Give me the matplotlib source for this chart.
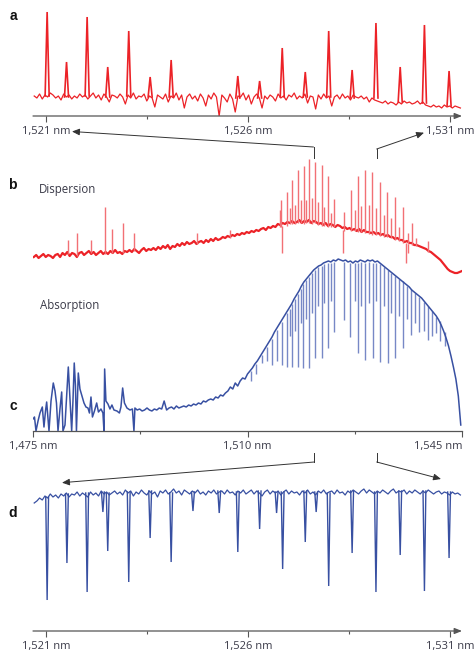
import numpy as np
import matplotlib
matplotlib.use("Agg")
import matplotlib.pyplot as plt
from matplotlib.lines import Line2D
from matplotlib.patches import FancyArrowPatch

# ---------------- DATA (heights in arbitrary units above each axis) ----------------
# Panel a: dispersion detail, 1521-1531 nm
a_noise = [20, 18, 22, 17, 21, 19, 23, 21, 18, 20,
           16, 22, 19, 21, 17, 20, 18, 22, 19, 21,
           17, 20, 23, 18, 21, 16, 22, 19, 14, 21,
           20, 18, 22, 19, 12, 21, 18, 23, 17, 20,
           19, 22, 15, 20, 18, 9, 21, 19, 17, 22,
           14, 20, 18, 23, 16, 21, 8, 19, 22, 17,
           20, 15, 22, 18, 10, 21, 17, 23, 19, 0,
           21, 18, 14, 22, 17, 4, 20, 19, 23, 16,
           21, 12, 19, 22, 18, 8, 20, 17, 21, 19,
           15, 22, 18, 20, 16, 21, 19, 23, 17, 20,
           18, 22, 13, 20, 19, 7, 21, 17, 22, 18,
           20, 10, 19, 21, 17, 22, 18, 20, 16, 21,
           19, 18, 20, 17, 19, 14, 18, 16, 15, 14,
           13, 15, 12, 14, 13, 11, 14, 12, 15, 13,
           14, 12, 13, 15, 12, 14, 11, 10, 9, 11,
           9, 10, 8, 11, 9, 10, 8, 10, 9, 8]
a_pk_nm = [1521.02, 1521.50, 1522.01, 1522.52, 1523.04, 1523.57, 1524.09, 1525.74, 1526.28,
           1526.84, 1527.41, 1527.99, 1528.57, 1529.16, 1529.76, 1530.36, 1530.97]
a_pk_top = [104, 54, 99, 49, 85, 39, 56, 40, 35, 68, 44, 85, 46, 93, 49, 91, 45]
a_pk_base = [20, 19, 20, 19, 20, 19, 19, 18, 18, 19, 19, 19, 18, 18, 14, 13, 10]

# Panel b: dispersion, 1475-1545 nm
b_noise = [33, 35, 32, 34, 36, 33, 35, 34, 32, 35,
           36, 33, 37, 35, 38, 34, 37, 36, 33, 37,
           38, 35, 37, 39, 36, 38, 35, 37, 39, 36,
           38, 36, 39, 37, 40, 37, 38, 36, 39, 38,
           40, 38, 41, 39, 37, 40, 42, 39, 41, 40,
           42, 40, 43, 41, 44, 42, 45, 41, 44, 43,
           46, 44, 47, 45, 48, 46, 47, 49, 46, 48,
           49, 47, 50, 48, 51, 49, 52, 50, 51, 53,
           52, 54, 53, 55, 54, 56, 55, 57, 56, 58,
           57, 59, 58, 60, 59, 61, 62, 60, 63, 62,
           64, 63, 66, 65, 67, 66, 68, 67, 69, 67,
           68, 70, 67, 69, 68, 70, 67, 69, 68, 66,
           67, 65, 67, 64, 66, 65, 63, 65, 64, 62,
           63, 61, 62, 60, 61, 59, 61, 58, 60, 58,
           58, 57, 58, 56, 57, 55, 56, 54, 55, 53,
           53, 51, 52, 50, 50, 48, 49, 47, 47, 45,
           45, 44, 43, 42, 41, 39, 38, 36, 34, 32,
           30, 27, 24, 21, 19, 18, 17, 17, 18, 19]
b_sp_nm = [1480.76, 1482.22, 1484.46, 1486.69, 1487.93, 1489.63, 1491.52, 1501.69, 1507.12,
           1515.23, 1515.44, 1516.37, 1516.86, 1517.28, 1517.72, 1518.16, 1518.65, 1519.14,
           1519.56, 1520.05, 1520.54, 1521.03, 1521.52, 1522.08, 1522.50, 1523.10, 1523.59,
           1524.08, 1525.76, 1526.85, 1527.46, 1527.99, 1528.60, 1529.18, 1529.79, 1530.39,
           1530.98, 1531.58, 1532.23, 1532.84, 1533.49, 1534.08, 1534.73, 1535.45, 1536.15,
           1536.80, 1537.45, 1539.41]
b_sp_top = [50, 57, 50, 83, 61, 67, 57, 57, 60, 80, 90, 98, 82, 110, 85, 120, 90, 124, 90, 131,
            92, 128, 88, 125, 83, 114, 77, 91, 78, 100, 80, 114, 84, 120, 85, 118, 82, 108, 75, 98,
            72, 93, 63, 83, 57, 67, 52, 49]
b_sp_base = [36, 34, 37, 36, 37, 37, 39, 46, 52, 63, 63, 64, 66, 66, 66, 67, 67, 66, 67, 67,
             66, 67, 65, 64, 64, 63, 63, 63, 59, 59, 59, 58, 58, 57, 56, 55, 55, 54, 53, 53,
             52, 50, 49, 47, 46, 45, 44, 38]
b_dn_nm = [1515.60, 1525.60, 1535.94, 1536.15]
b_dn_bot = [37, 37, 27, 37]
b_dn_base = [64, 60, 47, 46]

# Panel c: absorption, 1475-1545 nm
c_left_nm = [1475.00, 1475.24, 1475.49, 1475.82, 1476.14, 1476.52, 1476.79, 1477.04, 1477.23, 1477.61,
             1477.94, 1478.31, 1478.59, 1478.83, 1479.08, 1479.40, 1479.68, 1479.89, 1480.22, 1480.54,
             1480.76, 1481.03, 1481.31, 1481.52, 1481.73, 1481.93, 1482.09, 1482.39, 1482.66, 1482.99,
             1483.32, 1483.64, 1483.97, 1484.21, 1484.46, 1484.70, 1485.03, 1485.39, 1485.68, 1486.09,
             1486.41, 1486.58, 1486.69, 1486.90, 1487.23, 1487.56, 1487.88, 1488.21, 1488.70, 1489.10,
             1489.35, 1489.63, 1489.92, 1490.33, 1490.82, 1491.22, 1491.47, 1491.63]
c_left_h = [12, 14, 0, 10, 18, 24, 4, 20, 29, 0,
            30, 48, 40, 28, 0, 22, 39, 0, 6, 40,
            64, 32, 0, 30, 68, 45, 0, 58, 42, 35,
            28, 24, 23, 18, 34, 14, 20, 28, 19, 22,
            18, 0, 62, 30, 27, 22, 26, 21, 20, 18,
            24, 43, 28, 23, 21, 22, 0, 23]
c_main = [21, 22, 20, 21, 23, 21, 20, 22, 21, 23,
          22, 30, 21, 23, 24, 22, 25, 23, 24, 25,
          24, 26, 25, 27, 26, 28, 27, 30, 29, 31,
          32, 31, 34, 33, 36, 35, 38, 40, 44, 42,
          48, 45, 50, 53, 52, 57, 60, 63, 67, 70,
          74, 78, 82, 86, 90, 94, 99, 103, 107, 111,
          115, 119, 123, 127, 132, 136, 140, 145, 149, 152,
          155, 158, 161, 163, 165, 166, 168, 169, 170, 169,
          171, 170, 172, 171, 170, 171, 169, 170, 168, 170,
          169, 171, 170, 169, 171, 170, 171, 169, 170, 168,
          166, 164, 162, 160, 158, 156, 154, 152, 150, 148,
          146, 144, 141, 139, 137, 135, 133, 130, 127, 124,
          121, 118, 115, 111, 106, 100, 93, 85, 75, 64,
          52, 35, 6]
c_dip_nm = [1510.63, 1511.44, 1512.29, 1513.11, 1513.92, 1514.74, 1515.55, 1516.37, 1516.86, 1517.28,
            1517.72, 1518.16, 1518.65, 1519.08, 1519.56, 1520.05, 1520.54, 1520.98, 1521.52, 1522.08,
            1522.50, 1523.10, 1523.59, 1524.08, 1525.71, 1526.80, 1527.46, 1528.04, 1528.60, 1529.25,
            1529.79, 1530.44, 1530.98, 1531.63, 1532.23, 1532.89, 1533.49, 1534.14, 1534.73, 1535.38,
            1536.07, 1536.69, 1537.37, 1537.99, 1538.76, 1539.46, 1540.14, 1540.83, 1541.37, 1542.18]
c_dip_base = [60, 67, 76, 84, 92, 101, 109, 118, 122, 127,
              132, 137, 142, 147, 151, 154, 158, 161, 164, 165,
              167, 168, 168, 169, 169, 168, 168, 168, 169, 168,
              169, 168, 168, 167, 164, 161, 158, 155, 152, 150,
              145, 142, 138, 134, 129, 125, 120, 114, 110, 99]
c_dip_bot = [50, 57, 68, 70, 66, 70, 66, 64, 95, 64,
             100, 64, 108, 63, 112, 63, 118, 73, 125, 73,
             128, 83, 130, 99, 111, 94, 130, 78, 125, 71,
             128, 73, 130, 69, 125, 68, 118, 73, 115, 83,
             112, 96, 108, 99, 100, 91, 95, 98, 90, 85]

# Panel d: absorption detail, 1521-1531 nm
d_noise = [128, 130, 133, 131, 135, 133, 137, 134, 136, 133,
           137, 135, 138, 134, 137, 136, 139, 135, 138, 136,
           134, 139, 136, 138, 135, 140, 137, 139, 136, 138,
           140, 137, 139, 136, 141, 138, 140, 135, 139, 137,
           141, 138, 136, 140, 137, 139, 134, 140, 138, 141,
           137, 139, 142, 138, 140, 136, 141, 139, 137, 140,
           138, 141, 137, 139, 136, 140, 138, 141, 137, 139,
           140, 137, 141, 138, 139, 136, 140, 138, 141, 137,
           139, 141, 137, 140, 138, 135, 139, 141, 137, 140,
           138, 140, 136, 139, 141, 137, 140, 138, 139, 136,
           140, 138, 141, 137, 139, 136, 140, 138, 141, 137,
           139, 140, 137, 141, 138, 139, 136, 140, 138, 141,
           139, 137, 140, 142, 138, 141, 139, 137, 140, 138,
           141, 139, 137, 140, 142, 138, 140, 139, 141, 137,
           140, 138, 141, 139, 137, 140, 138, 141, 139, 137,
           139, 140, 137, 139, 138, 136, 139, 137, 138, 136]
d_dip_nm = [1521.02, 1521.51, 1522.01, 1522.40, 1522.52, 1523.04, 1523.57, 1524.09, 1524.63, 1525.28,
            1525.74, 1526.28, 1526.70, 1526.85, 1527.41, 1527.68, 1527.99, 1528.57, 1529.16, 1529.76,
            1530.36, 1530.97]
d_dip_bot = [31, 68, 39, 119, 80, 49, 93, 69, 120, 118, 79, 102, 118, 62, 89, 119, 45, 78, 39, 76, 40, 73]
d_dip_base = [134, 137, 138, 139, 138, 139, 140, 138, 139, 140, 139, 140, 139, 139, 140, 139, 138,
              140, 139, 140, 140, 139]

ab_ticks = [1521, 1526, 1531]
ab_minor = [1523.5, 1528.5]
ab_labels = ["1,521 nm", "1,526 nm", "1,531 nm"]
c_ticks = [1475, 1510, 1545]
c_minor = [1492.5, 1527.5]
c_labels = ["1,475 nm", "1,510 nm", "1,545 nm"]

# ---------------- STYLE ----------------
plt.rcParams['font.family'] = ['Open Sans', 'DejaVu Sans']
RED = '#ec2227'
RED_PALE = '#f27075'
BLUE = '#3850a2'
BLUE_PALE = '#7788c6'
AXC = '#555555'
TXT = '#3a3a48'

W, H = 474, 655
fig = plt.figure(figsize=(W / 100, H / 100), dpi=100)


def rect(l, t, r, b):
    return [l / W, 1 - b / H, (r - l) / W, (b - t) / H]


ax_a = fig.add_axes(rect(33, 6, 462, 116))
ax_b = fig.add_axes(rect(33, 150, 462, 290))
ax_c = fig.add_axes(rect(33, 250, 462, 431))
ax_d = fig.add_axes(rect(33, 480, 462, 631))

for ax in (ax_a, ax_b, ax_c, ax_d):
    ax.set_facecolor('none')

ax_a.set_xlim(1520.67, 1531.29); ax_a.set_ylim(0, 110)
ax_d.set_xlim(1520.67, 1531.29); ax_d.set_ylim(0, 151)
ax_b.set_xlim(1475, 1545); ax_b.set_ylim(0, 140)
ax_c.set_xlim(1475, 1545); ax_c.set_ylim(0, 181)


def style_axis(ax, major, minor, labels, arrow):
    for s in ['top', 'right', 'left']:
        ax.spines[s].set_visible(False)
    ax.spines['bottom'].set_color(AXC)
    ax.spines['bottom'].set_linewidth(0.9)
    if arrow:
        ax.spines['bottom'].set_visible(False)
        ax.annotate('', xy=(1.0, 0), xytext=(0, 0), xycoords='axes fraction',
                    textcoords='axes fraction', annotation_clip=False,
                    arrowprops=dict(arrowstyle='-|>,head_length=0.55,head_width=0.22',
                                    color=AXC, lw=0.9, shrinkA=0, shrinkB=0,
                                    mutation_scale=8))
    ax.set_yticks([])
    ax.set_xticks(major)
    ax.set_xticklabels(labels)
    ax.set_xticks(minor, minor=True)
    ax.tick_params(axis='x', which='major', direction='out', length=4, width=0.8,
                   color=AXC, pad=3, labelsize=8, labelcolor=TXT)
    ax.tick_params(axis='x', which='minor', direction='out', length=2.5, width=0.8,
                   color=AXC)


style_axis(ax_a, ab_ticks, ab_minor, ab_labels, True)
style_axis(ax_d, ab_ticks, ab_minor, ab_labels, True)
style_axis(ax_c, c_ticks, c_minor, c_labels, False)
ax_c.xaxis.get_major_ticks()[2].label1.set_horizontalalignment('right')
ax_b.axis('off')

# ---------------- TRACES ----------------
a_x = np.linspace(1520.70, 1531.25, len(a_noise))
ax_a.plot(a_x, a_noise, color=RED, lw=0.9)
for x, b, t in zip(a_pk_nm, a_pk_base, a_pk_top):
    ax_a.plot([x - 0.05, x, x + 0.05], [b, t, b], color=RED, lw=1.2, solid_joinstyle='miter')

b_x = np.linspace(1475.13, 1545.0, len(b_noise))
ax_b.plot(b_x, b_noise, color=RED, lw=1.6)
ax_b.vlines(b_sp_nm, b_sp_base, b_sp_top, color=RED_PALE, lw=1.0)
ax_b.vlines(b_dn_nm, b_dn_bot, b_dn_base, color=RED_PALE, lw=1.0)

c_x = list(c_left_nm) + list(np.linspace(1492.0, 1544.8, len(c_main)))
c_y = list(c_left_h) + list(c_main)
ax_c.vlines(c_dip_nm, c_dip_bot, c_dip_base, color=BLUE_PALE, lw=1.0)
ax_c.plot(c_x, c_y, color=BLUE, lw=1.1)

d_x = np.linspace(1520.70, 1531.25, len(d_noise))
ax_d.plot(d_x, d_noise, color=BLUE, lw=0.9)
for x, b, t in zip(d_dip_nm, d_dip_base, d_dip_bot):
    ax_d.plot([x - 0.035, x, x + 0.035], [b, t, b], color=BLUE, lw=1.0, solid_joinstyle='miter')

# ---------------- TEXT ----------------
def ftxt(x, y, s, **kw):
    fig.text(x / W, 1 - y / H, s, **kw)


for (x, y, s) in [(13, 16, 'a'), (12.5, 185, 'b'), (13, 406, 'c'), (13, 513, 'd')]:
    ftxt(x, y, s, ha='center', va='center', fontsize=10, fontweight='bold',
         family=['Liberation Sans', 'DejaVu Sans'], color='#111111')
ftxt(39, 190, 'Dispersion', ha='left', va='center', fontsize=8.3, color=TXT)
ftxt(39.5, 305, 'Absorption', ha='left', va='center', fontsize=8.3, color=TXT)

# ---------------- CONNECTOR ARROWS ----------------
def fxy(x, y):
    return (x / W, 1 - y / H)


ARC = '#333333'
connectors = [((313.5, 158), (313.5, 147), (72, 131.5)),
              ((376.7, 158), (376.7, 149), (424, 132.7)),
              ((314.3, 453), (314.3, 462), (62, 482.7)),
              ((376.7, 453), (376.7, 462), (441, 479))]
for p0, p1, p2 in connectors:
    a0, a1 = fxy(*p0), fxy(*p1)
    fig.add_artist(Line2D([a0[0], a1[0]], [a0[1], a1[1]], transform=fig.transFigure,
                          color=ARC, lw=0.7))
    fig.add_artist(FancyArrowPatch(fxy(*p1), fxy(*p2), transform=fig.transFigure,
                                   arrowstyle='-|>,head_length=0.5,head_width=0.22',
                                   mutation_scale=9, lw=0.7, color=ARC,
                                   shrinkA=0, shrinkB=0))

fig.savefig('out.png', dpi=100)
